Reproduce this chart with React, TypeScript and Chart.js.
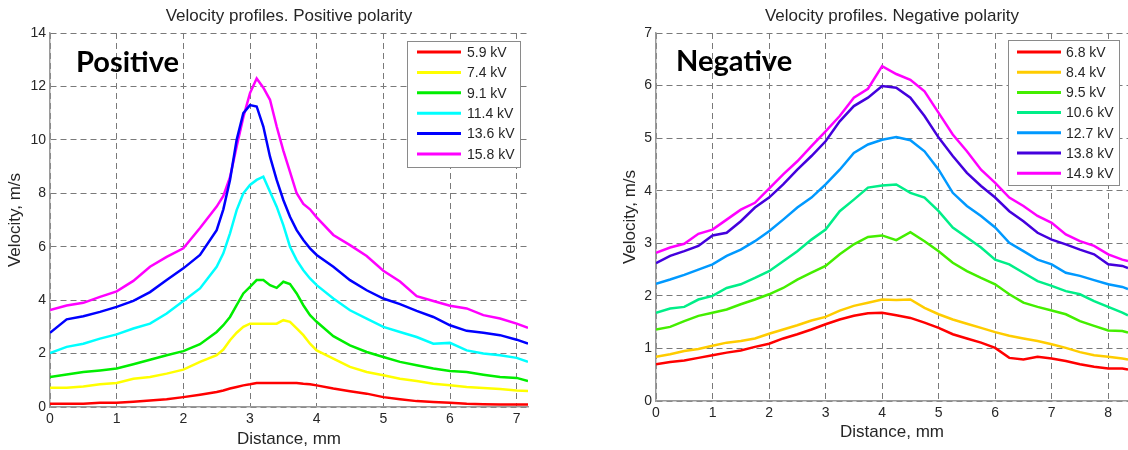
import React, { useEffect, useRef } from "react";
import { Chart, registerables } from "chart.js";

Chart.register(...registerables);

// ---------- Positive polarity ----------
const posDistance = [
  0, 0.25, 0.5, 0.75, 1, 1.25, 1.5, 1.75, 2, 2.25, 2.5,
  2.6, 2.7, 2.8, 2.9, 3.0, 3.1, 3.2, 3.3, 3.4, 3.5, 3.6, 3.7, 3.8, 3.9, 4.0,
  4.25, 4.5, 4.75, 5, 5.25, 5.5, 5.75, 6, 6.25, 6.5, 6.75, 7, 7.17,
];
const pos59 = [
  0.12, 0.12, 0.12, 0.16, 0.16, 0.2, 0.24, 0.29, 0.37, 0.46, 0.56,
  0.62, 0.69, 0.75, 0.81, 0.85, 0.9, 0.9, 0.9, 0.9, 0.9, 0.9, 0.9, 0.87, 0.85, 0.81,
  0.69, 0.59, 0.5, 0.37, 0.29, 0.22, 0.19, 0.16, 0.12, 0.1, 0.09, 0.09, 0.09,
];
const pos74 = [
  0.72, 0.72, 0.77, 0.85, 0.9, 1.06, 1.12, 1.25, 1.4, 1.69, 1.94,
  2.15, 2.5, 2.78, 3.0, 3.12, 3.12, 3.12, 3.12, 3.12, 3.25, 3.19, 2.94, 2.69, 2.37, 2.12,
  1.81, 1.5, 1.31, 1.19, 1.06, 0.97, 0.87, 0.81, 0.75, 0.71, 0.67, 0.62, 0.6,
];
const pos91 = [
  1.12, 1.22, 1.31, 1.37, 1.44, 1.6, 1.77, 1.94, 2.09, 2.35, 2.81,
  3.06, 3.37, 3.81, 4.25, 4.5, 4.75, 4.75, 4.56, 4.46, 4.69, 4.6, 4.25, 3.81, 3.44, 3.19,
  2.65, 2.31, 2.06, 1.87, 1.69, 1.56, 1.44, 1.35, 1.31, 1.21, 1.12, 1.09, 0.97,
];
const pos114 = [
  2.02, 2.25, 2.37, 2.56, 2.72, 2.94, 3.12, 3.5, 3.97, 4.44, 5.25,
  5.75, 6.5, 7.37, 8.0, 8.31, 8.5, 8.62, 8.06, 7.5, 6.81, 6.0, 5.5, 5.12, 4.81, 4.56,
  4.06, 3.62, 3.31, 3.0, 2.81, 2.62, 2.37, 2.4, 2.12, 2.0, 1.94, 1.84, 1.69,
];
const pos136 = [
  2.78, 3.28, 3.4, 3.56, 3.75, 3.97, 4.3, 4.75, 5.19, 5.69, 6.62,
  7.4, 8.5, 10.0, 11.0, 11.3, 11.25, 10.5, 9.37, 8.5, 7.75, 7.12, 6.62, 6.25, 5.94, 5.69,
  5.25, 4.75, 4.37, 4.06, 3.85, 3.6, 3.37, 3.06, 2.85, 2.78, 2.69, 2.52, 2.37,
];
const pos158 = [
  3.63, 3.8, 3.9, 4.12, 4.33, 4.72, 5.25, 5.62, 5.94, 6.7, 7.5,
  7.9, 8.6, 9.75, 10.85, 11.75, 12.3, 11.95, 11.5, 10.5, 9.6, 8.8, 8.0, 7.6, 7.4, 7.1,
  6.44, 6.06, 5.65, 5.1, 4.7, 4.15, 3.97, 3.79, 3.69, 3.44, 3.31, 3.12, 2.96,
];
const posLabels = ["5.9 kV", "7.4 kV", "9.1 kV", "11.4 kV", "13.6 kV", "15.8 kV"];
const posColors = ["#ff0000", "#ffff00", "#00ee00", "#00ffff", "#0000ff", "#ff00ff"];
const posSeries = [pos59, pos74, pos91, pos114, pos136, pos158];
const posYTicks = { min: 0, max: 14, step: 2 };

// ---------- Negative polarity ----------
const negDistance = [
  0, 0.25, 0.5, 0.75, 1, 1.25, 1.5, 1.75, 2, 2.25, 2.5, 2.75, 3, 3.25, 3.5, 3.75,
  4, 4.25, 4.5, 4.75, 5, 5.25, 5.5, 5.75, 6, 6.25, 6.5, 6.75, 7, 7.25, 7.5, 7.75,
  8, 8.25, 8.35,
];
const neg68 = [
  0.7, 0.74, 0.77, 0.82, 0.87, 0.92, 0.96, 1.03, 1.09, 1.19, 1.27, 1.36, 1.46, 1.55, 1.62, 1.67,
  1.68, 1.63, 1.58, 1.49, 1.39, 1.27, 1.19, 1.11, 1.01, 0.82, 0.79, 0.84, 0.81, 0.76, 0.7, 0.65,
  0.62, 0.62, 0.6,
];
const neg84 = [
  0.84, 0.89, 0.95, 0.99, 1.05, 1.11, 1.14, 1.19, 1.28, 1.36, 1.44, 1.53, 1.6, 1.72, 1.81, 1.87,
  1.93, 1.92, 1.93, 1.77, 1.65, 1.55, 1.47, 1.39, 1.31, 1.24, 1.19, 1.14, 1.08, 1.01, 0.93, 0.87,
  0.84, 0.81, 0.79,
];
const neg95 = [
  1.36, 1.41, 1.52, 1.62, 1.68, 1.74, 1.84, 1.93, 2.03, 2.15, 2.31, 2.44, 2.57, 2.79, 2.98, 3.12,
  3.15, 3.06, 3.21, 3.04, 2.85, 2.63, 2.47, 2.34, 2.22, 2.03, 1.87, 1.79, 1.72, 1.65, 1.52, 1.43,
  1.34, 1.33, 1.3,
];
const neg106 = [
  1.68, 1.76, 1.79, 1.93, 2.0, 2.15, 2.22, 2.34, 2.47, 2.66, 2.85, 3.07, 3.26, 3.61, 3.83, 4.06,
  4.1, 4.12, 3.96, 3.87, 3.61, 3.3, 3.11, 2.92, 2.69, 2.6, 2.44, 2.28, 2.19, 2.09, 2.03, 1.9,
  1.79, 1.68, 1.63,
];
const neg127 = [
  2.23, 2.31, 2.4, 2.5, 2.6, 2.76, 2.88, 3.04, 3.23, 3.45, 3.68, 3.87, 4.12, 4.4, 4.72, 4.88,
  4.97, 5.02, 4.96, 4.75, 4.4, 3.96, 3.71, 3.52, 3.3, 3.01, 2.85, 2.69, 2.6, 2.44, 2.38, 2.3,
  2.22, 2.17, 2.13,
];
const neg138 = [
  2.62, 2.76, 2.85, 2.95, 3.15, 3.2, 3.42, 3.68, 3.87, 4.12, 4.4, 4.66, 4.94, 5.32, 5.61, 5.77,
  5.99, 5.96, 5.77, 5.42, 5.01, 4.66, 4.34, 4.09, 3.87, 3.61, 3.42, 3.2, 3.07, 2.98, 2.88, 2.79,
  2.6, 2.57, 2.53,
];
const neg149 = [
  2.82, 2.92, 2.99, 3.18, 3.26, 3.45, 3.64, 3.77, 4.04, 4.31, 4.56, 4.85, 5.13, 5.42, 5.77, 5.94,
  6.37, 6.22, 6.11, 5.89, 5.48, 5.07, 4.75, 4.4, 4.15, 3.87, 3.71, 3.52, 3.39, 3.17, 3.04, 2.95,
  2.79, 2.69, 2.66,
];
const negLabels = ["6.8 kV", "8.4 kV", "9.5 kV", "10.6 kV", "12.7 kV", "13.8 kV", "14.9 kV"];
const negColors = ["#ff0000", "#ffcc00", "#44ee00", "#00ee88", "#0099ff", "#4400dd", "#ff00ff"];
const negSeries = [neg68, neg84, neg95, neg106, neg127, neg138, neg149];
const negYTicks = { min: 0, max: 7, step: 1 };

const FONT = "Arial, 'Liberation Sans', sans-serif";
const TEXT = "#262626";

const boxLegendPlugin = {
  id: "boxLegend",
  afterDatasetsDraw(chart: any, _args: any, opts: any) {
    if (!opts || !opts.box) return;
    const ctx = chart.ctx;
    const b = opts.box;
    ctx.save();
    ctx.fillStyle = "#ffffff";
    ctx.fillRect(b.x, b.y, b.w, b.h);
    ctx.strokeStyle = "#8a8a8a";
    ctx.lineWidth = 1;
    ctx.strokeRect(b.x + 0.5, b.y + 0.5, b.w, b.h);
    ctx.font = `14px ${FONT}`;
    ctx.textBaseline = "middle";
    ctx.textAlign = "left";
    chart.data.datasets.forEach((ds: any, i: number) => {
      const y = opts.row0 + i * opts.rowStep;
      ctx.strokeStyle = ds.borderColor;
      ctx.lineWidth = 3;
      ctx.beginPath();
      ctx.moveTo(opts.line0, y);
      ctx.lineTo(opts.line1, y);
      ctx.stroke();
      ctx.fillStyle = TEXT;
      ctx.fillText(ds.label, opts.textX, y + 1);
    });
    ctx.restore();
  },
};

const bigLabelPlugin = {
  id: "bigLabel",
  afterDraw(chart: any, _args: any, opts: any) {
    if (!opts || !opts.text) return;
    const ctx = chart.ctx;
    ctx.save();
    ctx.font = `bold 29px Lato, 'Open Sans', sans-serif`;
    ctx.fillStyle = "#000000";
    ctx.textBaseline = "alphabetic";
    ctx.textAlign = "left";
    ctx.fillText(opts.text, opts.x, opts.y);
    ctx.restore();
  },
};

function buildConfig(p: {
  title: string;
  xs: number[];
  series: number[][];
  labels: string[];
  colors: string[];
  xMax: number;
  yTicks: { min: number; max: number; step: number };
  padRight: number;
  yWidth: number;
  yTitlePad: number;
  xHeight: number;
  xTitlePad: number;
  legend: any;
  big: any;
}) {
  return {
    type: "line" as const,
    data: {
      datasets: p.series.map((vals, i) => ({
        label: p.labels[i],
        data: p.xs.map((x, j) => ({ x, y: vals[j] })),
        borderColor: p.colors[i],
        backgroundColor: p.colors[i],
        borderWidth: 2.5,
        pointRadius: 0,
        tension: 0,
        fill: false,
      })),
    },
    options: {
      responsive: false,
      animation: false as const,
      devicePixelRatio: 1,
      layout: { padding: { left: 0, right: p.padRight, top: 0, bottom: 0 } },
      plugins: {
        legend: { display: false },
        tooltip: { enabled: false },
        title: {
          display: true,
          text: p.title,
          fullSize: false,
          color: TEXT,
          font: { family: FONT, size: 17, weight: "normal" as const },
          padding: { top: 6, bottom: 6.6 },
        },
        boxLegend: p.legend,
        bigLabel: p.big,
      },
      scales: {
        x: {
          type: "linear" as const,
          min: 0,
          max: p.xMax,
          afterFit: (s: any) => {
            s.height = p.xHeight;
          },
          ticks: {
            stepSize: 1,
            includeBounds: false,
            color: TEXT,
            font: { family: FONT, size: 14 },
            padding: 4,
            maxRotation: 0,
          },
          grid: { color: "#7a7a7a", lineWidth: 1, drawTicks: false },
          border: { display: true, color: "#9a9a9a", width: 1.5, dash: [6, 4] },
          title: {
            display: true,
            text: "Distance, mm",
            color: TEXT,
            font: { family: FONT, size: 17 },
            padding: { top: 0, bottom: p.xTitlePad },
          },
        },
        y: {
          type: "linear" as const,
          min: p.yTicks.min,
          max: p.yTicks.max,
          afterFit: (s: any) => {
            s.width = p.yWidth;
          },
          ticks: {
            stepSize: p.yTicks.step,
            color: TEXT,
            font: { family: FONT, size: 14 },
            padding: 4,
          },
          grid: { color: "#7a7a7a", lineWidth: 1, drawTicks: false },
          border: { display: true, color: "#9a9a9a", width: 1.5, dash: [6, 4] },
          title: {
            display: true,
            text: "Velocity, m/s",
            color: TEXT,
            font: { family: FONT, size: 17 },
            padding: { top: p.yTitlePad, bottom: 0 },
          },
        },
      },
    },
    plugins: [boxLegendPlugin, bigLabelPlugin],
  };
}

function ChartCanvas({ config, left, width }: { config: any; left: number; width: number }) {
  const ref = useRef<HTMLCanvasElement | null>(null);
  useEffect(() => {
    if (!ref.current) return;
    const chart = new Chart(ref.current, config);
    return () => chart.destroy();
  }, [config]);
  return (
    <canvas
      ref={ref}
      width={width}
      height={450}
      style={{ position: "absolute", left, top: 0, width, height: 450 }}
    />
  );
}

const posConfig = buildConfig({
  title: "Velocity profiles. Positive polarity",
  xs: posDistance,
  series: posSeries,
  labels: posLabels,
  colors: posColors,
  xMax: 7.17,
  yTicks: posYTicks,
  padRight: 36,
  yWidth: 50,
  yTitlePad: 5,
  xHeight: 43,
  xTitlePad: 0,
  legend: { box: { x: 407, y: 41, w: 113, h: 126 }, row0: 52, rowStep: 20.4, line0: 417, line1: 461, textX: 467 },
  big: { text: "Positive", x: 76, y: 72 },
});

const negConfig = buildConfig({
  title: "Velocity profiles. Negative polarity",
  xs: negDistance,
  series: negSeries,
  labels: negLabels,
  colors: negColors,
  xMax: 8.35,
  yTicks: negYTicks,
  padRight: 0,
  yWidth: 92,
  yTitlePad: 56,
  xHeight: 49,
  xTitlePad: 7,
  legend: { box: { x: 444, y: 40, w: 111, h: 145 }, row0: 52, rowStep: 20.2, line0: 453, line1: 497, textX: 502 },
  big: { text: "Negative", x: 112, y: 71 },
});

export default function App() {
  return (
    <div style={{ position: "absolute", left: 0, top: 0, width: 1128, height: 450, background: "#ffffff" }}>
      <ChartCanvas config={posConfig} left={0} width={564} />
      <ChartCanvas config={negConfig} left={564} width={564} />
    </div>
  );
}
